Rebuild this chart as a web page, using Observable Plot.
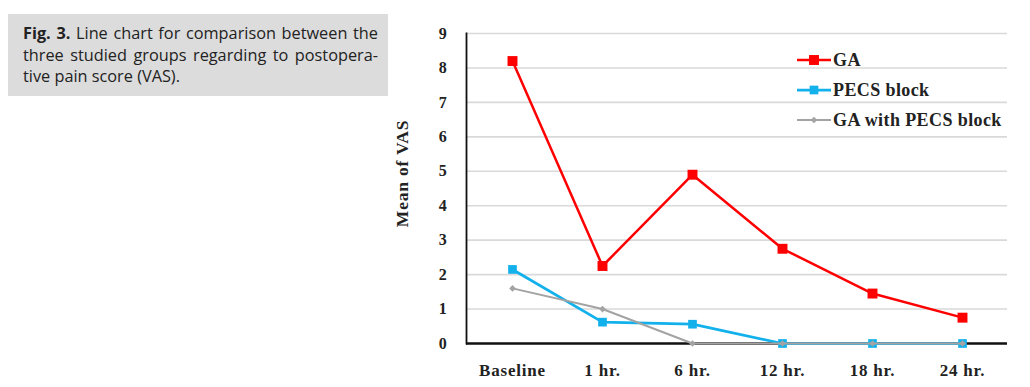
<!DOCTYPE html>
<html>
<head>
<meta charset="utf-8">
<script src="https://cdn.jsdelivr.net/npm/d3@7"></script>
<script src="https://cdn.jsdelivr.net/npm/@observablehq/plot@0.6"></script>
<style>
  html, body { margin: 0; padding: 0; background: #fff; }
  #wrap { position: relative; width: 1030px; height: 387px; overflow: hidden; }
  #chart { position: absolute; left: 0; top: 0; }
  #caption {
    position: absolute; left: 8px; top: 14px; width: 380px; height: 82px;
    background: #dcdcdc; box-sizing: border-box; padding: 9px 10px 0 15px;
    font-family: "Open Sans", Lato, sans-serif; font-size: 16.3px; line-height: 21.5px; color: #222;
  }
  #caption .ln { text-align: justify; text-align-last: justify; white-space: nowrap; }
  #caption .ln.last { text-align-last: left; }
  #legend { position: absolute; left: 797px; top: 45px; font-family: "Liberation Serif", "Times New Roman", serif;
    font-weight: bold; font-size: 18px; letter-spacing: 0.4px; color: #222; }
  #legend .row { display: flex; align-items: center; height: 30px; }
  #legend svg { display: block; margin-right: 2px; }
</style>
</head>
<body>
<div id="wrap">
  <div id="chart"></div>
  <div id="caption"></div>
  <div id="legend"></div>
</div>
<script>
// ---- data ----
const categories = ["Baseline", "1 hr.", "6 hr.", "12 hr.", "18 hr.", "24 hr."];
const seriesNames = ["GA", "PECS block", "GA with PECS block"];
const gaValues = [8.2, 2.25, 4.9, 2.75, 1.45, 0.75];
const pecsValues = [2.15, 0.62, 0.56, 0, 0, 0];
const gaPecsValues = [1.6, 1.0, 0, 0, 0, 0];
const yTicks = [0, 1, 2, 3, 4, 5, 6, 7, 8, 9];
const yLabel = "Mean of VAS";
const captionBold = "Fig. 3.";
const captionLines = [
  " Line chart for comparison between the",
  "three studied groups regarding to postopera-",
  "tive pain score (VAS)."
];

// ---- styles per series ----
const seriesStyle = [
  {color: "#ff0000", width: 2.5, symbol: "square", r: 5.6},
  {color: "#12b1ec", width: 2.75, symbol: "square", r: 4.9},
  {color: "#a3a3a3", width: 2, symbol: "diamond2", r: 3}
];
const allValues = [gaValues, pecsValues, gaPecsValues];
const tables = allValues.map((vals, s) => categories.map((c, i) => ({cat: c, v: vals[i], series: seriesNames[s]})));

const marks = [
  Plot.gridY(yTicks, {stroke: "#d9d9d9", strokeOpacity: 1, strokeWidth: 1.6}),
  Plot.axisY({ticks: yTicks, tickSize: 0, tickPadding: 19, label: null, fontSize: 16, fontWeight: "bold", fill: "#222"}),
  Plot.axisX({tickSize: 0, tickPadding: 20, label: null, fontSize: 17, fontWeight: "bold", fill: "#222"}),
  Plot.frame({anchor: "left", stroke: "#111", strokeWidth: 1.8}),
  Plot.ruleY([0], {stroke: "#111", strokeWidth: 2.5}),
  Plot.text([yLabel], {frameAnchor: "left", textAnchor: "middle", dx: -64, dy: -15, rotate: -90, fontSize: 17.5, fontWeight: "bold", fill: "#222"})
];
tables.forEach((t, s) => {
  const st = seriesStyle[s];
  marks.push(Plot.line(t, {x: "cat", y: "v", stroke: st.color, strokeWidth: st.width}));
  marks.push(Plot.dot(t, {x: "cat", y: "v", symbol: st.symbol, r: st.r, fill: st.color, stroke: "none"}));
});

const chart = Plot.plot({
  width: 1030, height: 387,
  marginLeft: 466, marginRight: 23, marginTop: 33, marginBottom: 44,
  x: {type: "point", domain: categories, padding: 0.5},
  y: {domain: [0, 9]},
  style: {fontFamily: "'Liberation Serif', 'Times New Roman', serif", background: "#fff", letterSpacing: "0.8px"},
  marks
});
document.getElementById("chart").appendChild(chart);

// ---- caption ----
const cap = document.getElementById("caption");
captionLines.forEach((line, i) => {
  const d = document.createElement("div");
  d.className = "ln" + (i === captionLines.length - 1 ? " last" : "");
  if (i === 0) {
    const b = document.createElement("b");
    b.textContent = captionBold;
    d.appendChild(b);
  }
  d.appendChild(document.createTextNode(line));
  cap.appendChild(d);
});

// ---- legend ----
const leg = document.getElementById("legend");
seriesNames.forEach((name, s) => {
  const st = seriesStyle[s];
  const row = document.createElement("div");
  row.className = "row";
  const svg = d3.create("svg").attr("width", 34).attr("height", 14);
  svg.append("line").attr("x1", 0).attr("x2", 34).attr("y1", 7).attr("y2", 7)
    .attr("stroke", st.color).attr("stroke-width", st.width);
  const sym = st.symbol === "square" ? d3.symbolSquare : d3.symbolDiamond2;
  svg.append("path").attr("d", d3.symbol(sym, Math.PI * st.r * st.r)())
    .attr("transform", "translate(17,7)").attr("fill", st.color);
  row.appendChild(svg.node());
  const span = document.createElement("span");
  span.textContent = name;
  row.appendChild(span);
  leg.appendChild(row);
});
</script>
</body>
</html>
